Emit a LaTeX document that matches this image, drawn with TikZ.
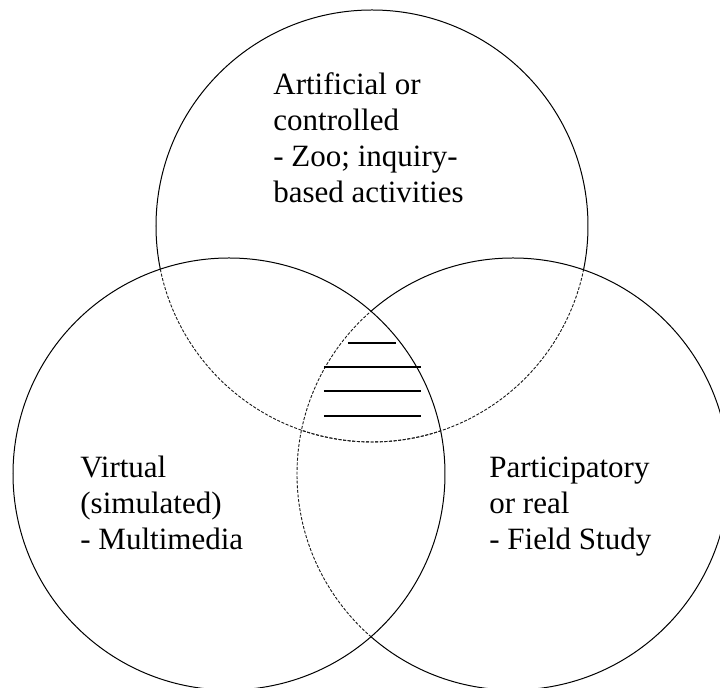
\documentclass[tikz,border=0pt]{standalone}
\usepackage{fontspec}
\setmainfont{Liberation Serif}

\begin{document}
\begin{tikzpicture}[
  x=0.5pt, y=-0.5pt,
  ring/.style={line width=0.5pt},
  ringdash/.style={line width=0.45pt, dash pattern=on 1.5pt off 0.8pt, black!90},
  hatch/.style={line width=0.8pt},
  lbl/.style={anchor=base west, inner sep=0pt, align=left,
    font=\fontsize{15.5}{18}\selectfont}
]
\useasboundingbox (0,0) rectangle (720,688);
\def\rad{108pt}

\coordinate (ctop) at (372,226);
\coordinate (cleft) at (229,474);
\coordinate (cright) at (513,474);

% left circle is solid all round
\draw[ring] (cleft) circle[radius=\rad];

% top circle: dashed inside the two lower ones, solid elsewhere
\begin{scope}
  \clip (cleft) circle[radius=\rad];
  \draw[ringdash] (ctop) circle[radius=\rad];
\end{scope}
\begin{scope}
  \clip (cright) circle[radius=\rad];
  \draw[ringdash] (ctop) circle[radius=\rad];
\end{scope}
\begin{scope}[even odd rule]
  \clip (-50,-50) rectangle (800,750) (cleft) circle[radius=\rad];
  \clip (-50,-50) rectangle (800,750) (cright) circle[radius=\rad];
  \draw[ring] (ctop) circle[radius=\rad];
\end{scope}

% right circle: dashed where it runs inside the left one
\begin{scope}
  \clip (cleft) circle[radius=\rad];
  \draw[ringdash] (cright) circle[radius=\rad];
\end{scope}
\begin{scope}[even odd rule]
  \clip (-50,-50) rectangle (800,750) (cleft) circle[radius=\rad];
  \draw[ring] (cright) circle[radius=\rad];
\end{scope}

% hatching in the common part
\draw[hatch] (348,343) -- (396,343);
\foreach \y in {367,391,416}
  \draw[hatch] (324,\y) -- (421,\y);

% labels sit on the baseline of their last line
\node[lbl] (artificial) at (273,203) {Artificial or\\controlled\\- Zoo; inquiry-\\based activities};
\node[lbl] (virtual) at (80,550) {Virtual\\(simulated)\\- Multimedia};
\node[lbl] (participatory) at (489,550) {Participatory\\or real\\- Field Study};

\end{tikzpicture}
\end{document}
